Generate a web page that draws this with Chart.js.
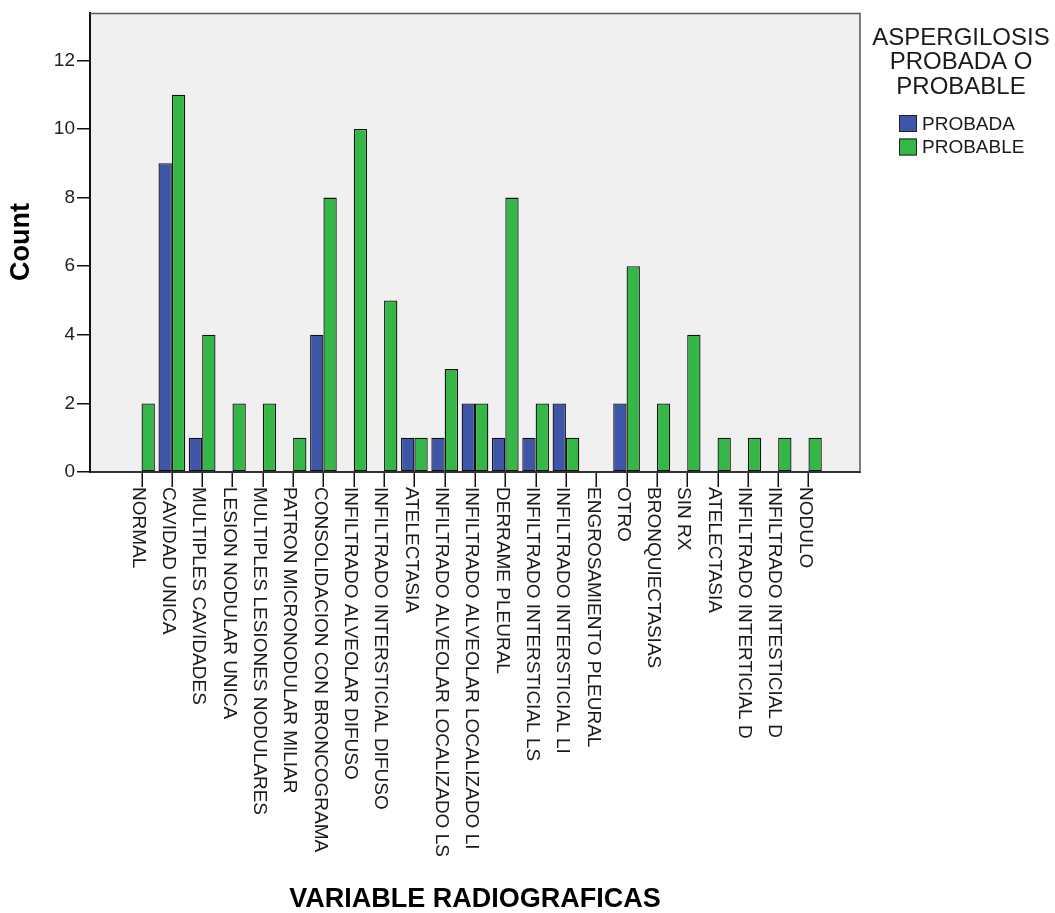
<!DOCTYPE html>
<html>
<head>
<meta charset="utf-8">
<script src="https://cdn.jsdelivr.net/npm/chart.js@4.4.1/dist/chart.umd.min.js"></script>
<style>
  html, body { margin: 0; padding: 0; background: #ffffff; }
  canvas { display: block; }
</style>
</head>
<body>
<canvas id="c" width="1055" height="913" style="width:1055px;height:913px"></canvas>
<script>
// ---- data ----
const categories = [
  "NORMAL", "CAVIDAD UNICA", "MULTIPLES CAVIDADES", "LESION NODULAR UNICA",
  "MULTIPLES LESIONES NODULARES", "PATRON MICRONODULAR MILIAR",
  "CONSOLIDACION CON BRONCOGRAMA", "INFILTRADO ALVEOLAR DIFUSO",
  "INFILTRADO INTERSTICIAL DIFUSO", "ATELECTASIA",
  "INFILTRADO ALVEOLAR LOCALIZADO LS", "INFILTRADO ALVEOLAR LOCALIZADO LI",
  "DERRAME PLEURAL", "INFILTRADO INTERSTICIAL LS", "INFILTRADO INTERSTICIAL LI",
  "ENGROSAMIENTO PLEURAL", "OTRO", "BRONQUIECTASIAS", "SIN RX", "ATELECTASIA",
  "INFILTRADO INTERTICIAL D", "INFILTRADO INTESTICIAL D", "NODULO"
];
const probada  = [0, 9, 1, 0, 0, 0, 4, 0, 0, 1, 1, 2, 1, 1, 2, 0, 2, 0, 0, 0, 0, 0, 0];
const probable = [2, 11, 4, 2, 2, 1, 8, 10, 5, 1, 3, 2, 8, 2, 1, 0, 6, 2, 4, 1, 1, 1, 1];
const yTicks = [0, 2, 4, 6, 8, 10, 12];
const seriesNames = ["PROBADA", "PROBABLE"];
const legendTitle = ["ASPERGILOSIS", "PROBADA O", "PROBABLE"];
const xTitle = "VARIABLE RADIOGRAFICAS";
const yTitle = "Count";

const COLORS = ["#3E56A8", "#35B748"];
const FONT = "'Liberation Sans', Arial, sans-serif";

function toPoints(arr) { return arr.map((v, i) => ({ x: i, y: v })); }

const decor = {
  id: 'decor',
  beforeDraw(chart) {
    const { ctx, chartArea: a } = chart;
    ctx.save();
    ctx.fillStyle = '#F0F0F0';
    ctx.fillRect(a.left, a.top, a.right - a.left, a.bottom - a.top);
    ctx.restore();
  },
  afterDraw(chart) {
    const { ctx, chartArea: a } = chart;
    const xs = chart.scales.x;
    ctx.save();
    // top and right frame
    ctx.strokeStyle = '#555555';
    ctx.lineWidth = 1.5;
    ctx.beginPath();
    ctx.moveTo(a.left, a.top);
    ctx.lineTo(a.right, a.top);
    ctx.lineTo(a.right, a.bottom);
    ctx.stroke();

    // x tick marks
    ctx.strokeStyle = '#111111';
    ctx.lineWidth = 1.5;
    ctx.beginPath();
    categories.forEach((_, i) => {
      const px = Math.round(xs.getPixelForValue(i)) + 0.25;
      ctx.moveTo(px, a.bottom + 1);
      ctx.lineTo(px, a.bottom + 15);
    });
    ctx.stroke();

    // rotated category labels (reading top to bottom)
    ctx.fillStyle = '#1a1a1a';
    ctx.font = '19px ' + FONT;
    ctx.textAlign = 'left';
    ctx.textBaseline = 'middle';
    categories.forEach((lab, i) => {
      const px = xs.getPixelForValue(i);
      ctx.save();
      ctx.translate(px - 3.5, a.bottom + 15);
      ctx.rotate(Math.PI / 2);
      ctx.fillText(lab, 0, 0);
      ctx.restore();
    });

    // axis titles
    ctx.fillStyle = '#000000';
    ctx.font = 'bold 27px ' + FONT;
    ctx.textAlign = 'center';
    ctx.textBaseline = 'middle';
    ctx.fillText(xTitle, (a.left + a.right) / 2, 900);
    ctx.save();
    ctx.translate(22, 242);
    ctx.rotate(-Math.PI / 2);
    ctx.fillText(yTitle, 0, 0);
    ctx.restore();

    // legend
    ctx.fillStyle = '#1a1a1a';
    ctx.font = '24px ' + FONT;
    ctx.textAlign = 'center';
    legendTitle.forEach((t, i) => ctx.fillText(t, 961, 38.5 + i * 24.3));
    ctx.font = '19px ' + FONT;
    ctx.textAlign = 'left';
    seriesNames.forEach((n, i) => {
      const y = 115 + i * 23.5;
      ctx.fillStyle = COLORS[i];
      ctx.fillRect(899, y, 18, 17);
      ctx.strokeStyle = '#222222';
      ctx.lineWidth = 1;
      ctx.strokeRect(899.5, y + 0.5, 17, 16);
      ctx.fillStyle = '#1a1a1a';
      ctx.fillText(n, 922, y + 9.5);
    });
    ctx.restore();
  }
};

new Chart(document.getElementById('c'), {
  type: 'bar',
  data: {
    datasets: [
      { label: seriesNames[0], data: toPoints(probada), backgroundColor: COLORS[0] },
      { label: seriesNames[1], data: toPoints(probable), backgroundColor: COLORS[1] }
    ]
  },
  options: {
    responsive: false,
    animation: false,
    devicePixelRatio: 1,
    layout: { padding: { top: 13, right: 195, left: 0, bottom: 0 } },
    datasets: {
      bar: {
        categoryPercentage: 0.88,
        barPercentage: 1.0,
        borderColor: '#111111',
        borderWidth: (c) => (c.raw && c.raw.y === 0 ? 0 : 1.3),
        borderSkipped: false
      }
    },
    plugins: { legend: { display: false }, tooltip: { enabled: false } },
    scales: {
      x: {
        type: 'linear',
        offset: false,
        min: -1.7,
        max: categories.length - 1 + 1.7,
        afterBuildTicks: (s) => { s.ticks = categories.map((_, i) => ({ value: i })); },
        afterFit: (s) => { s.height = 913 - 472; },
        ticks: { display: false },
        grid: { display: false },
        border: { display: true, color: '#333333', width: 2 }
      },
      y: {
        min: 0,
        max: 13.37,
        afterBuildTicks: (s) => { s.ticks = yTicks.map(v => ({ value: v })); },
        afterFit: (s) => { s.width = 90; },
        ticks: { color: '#222222', font: { family: FONT, size: 19 }, padding: 2 },
        grid: { display: true, drawOnChartArea: false, drawTicks: true, tickLength: 13, color: '#111111', lineWidth: 1.5 },
        border: { display: true, color: '#111111', width: 2 }
      }
    }
  },
  plugins: [decor]
});
</script>
</body>
</html>
